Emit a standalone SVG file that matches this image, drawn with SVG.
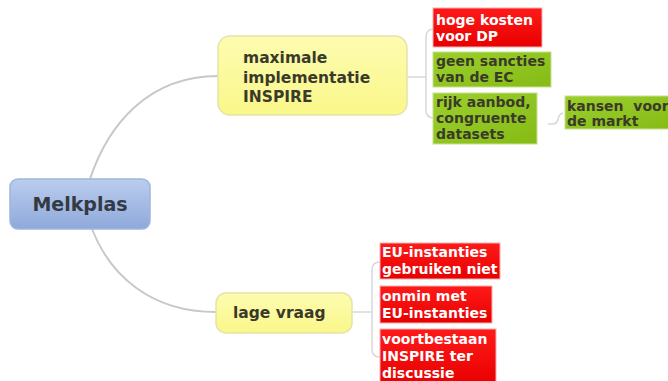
<svg xmlns="http://www.w3.org/2000/svg" width="668" height="381" viewBox="0 0 668 381">
<defs>
<linearGradient id="gBlue" x1="0" y1="0" x2="0" y2="1"><stop offset="0" stop-color="#bccdee"/><stop offset="1" stop-color="#8ea9da"/></linearGradient>
<linearGradient id="gYel" x1="0" y1="0" x2="0" y2="1"><stop offset="0" stop-color="#fdfcb0"/><stop offset="1" stop-color="#faf78a"/></linearGradient>
<linearGradient id="gRed" x1="0" y1="0" x2="0" y2="1"><stop offset="0" stop-color="#ff1a1a"/><stop offset="1" stop-color="#e80000"/></linearGradient>
<linearGradient id="gGrn" x1="0" y1="0" x2="1" y2="1"><stop offset="0" stop-color="#9ccf2c"/><stop offset="1" stop-color="#86bb16"/></linearGradient>
</defs>
<style>
text{font-family:"DejaVu Sans",Verdana,sans-serif;font-weight:bold;}
.main{font-size:19px;fill:#333a44;}
.mid{font-size:15.5px;fill:#3a3a2a;}
.red{font-size:14px;fill:#ffffff;}
.grn{font-size:14px;fill:#3a3a2a;}
.con{fill:none;stroke:#c8c8c8;stroke-width:2;}
.br{fill:none;stroke:#d8d8d8;stroke-width:1.5;}
.rbox{fill:url(#gRed);stroke:#f4b0b0;stroke-width:1;}
.gbox{fill:url(#gGrn);stroke:#c8e090;stroke-width:1;}
.ybox{fill:url(#gYel);stroke:#e6e2a8;stroke-width:1.5;}
</style>
<rect width="668" height="381" fill="#ffffff"/>
<g id="connectors">
<path class="con" d="M90 179 C108 125 148 76 218 76"/>
<path class="con" d="M92 229 C110 275 150 312 216 312"/>
<path class="br" d="M407 77 L426 77"/>
<path class="br" d="M434 29 Q426 29 426 37 L426 110 Q426 118 434 118"/>
<path class="br" d="M352 312 L372 312"/>
<path class="br" d="M380 262 Q372 262 372 270 L372 349 Q372 357 380 357"/>
<path class="br" d="M548 124 L553 124 Q557 124 558 119 Q559 114 563 113"/>
</g>
<g id="n-melkplas">
<rect x="10" y="179" width="140" height="50" rx="8" fill="url(#gBlue)" stroke="#9fb5de" stroke-width="1.5"/>
<text class="main" x="80" y="211" text-anchor="middle">Melkplas</text>
</g>
<g id="n-maximale">
<rect x="218" y="36" width="189" height="79" rx="12" class="ybox"/>
<text class="mid" x="243" y="63">maximale</text>
<text class="mid" x="243" y="83">implementatie</text>
<text class="mid" x="243" y="102">INSPIRE</text>
</g>
<g id="n-lage">
<rect x="216" y="293" width="136" height="40" rx="10" class="ybox"/>
<text class="mid" x="233" y="318">lage vraag</text>
</g>
<g id="n-hoge">
<rect x="433" y="8" width="109" height="39" class="rbox"/>
<text class="red" x="436" y="25">hoge kosten</text>
<text class="red" x="436" y="41">voor DP</text>
</g>
<g id="n-geen">
<rect x="433" y="52" width="118" height="35" class="gbox"/>
<text class="grn" x="436" y="66">geen sancties</text>
<text class="grn" x="436" y="82">van de EC</text>
</g>
<g id="n-rijk">
<rect x="433" y="93" width="104" height="51" class="gbox"/>
<text class="grn" x="436" y="107">rijk aanbod,</text>
<text class="grn" x="436" y="123">congruente</text>
<text class="grn" x="436" y="139">datasets</text>
</g>
<g id="n-kansen">
<rect x="565" y="96" width="110" height="33" class="gbox"/>
<text class="grn" x="567" y="111" style="white-space:pre">kansen  voor</text>
<text class="grn" x="567" y="126">de markt</text>
</g>
<g id="n-eu1">
<rect x="380" y="243" width="120" height="36" class="rbox"/>
<text class="red" x="382" y="257">EU-instanties</text>
<text class="red" x="382" y="274">gebruiken niet</text>
</g>
<g id="n-onmin">
<rect x="380" y="286" width="112" height="37" class="rbox"/>
<text class="red" x="382" y="301">onmin met</text>
<text class="red" x="382" y="318">EU-instanties</text>
</g>
<g id="n-voort">
<rect x="380" y="329" width="116" height="56" class="rbox"/>
<text class="red" x="382" y="344">voortbestaan</text>
<text class="red" x="382" y="361">INSPIRE ter</text>
<text class="red" x="382" y="378">discussie</text>
</g>
</svg>
